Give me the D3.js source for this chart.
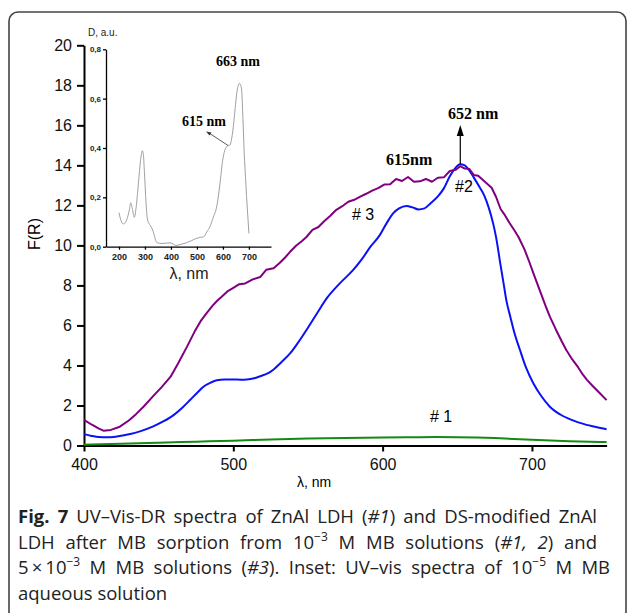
<!DOCTYPE html>
<html>
<head>
<meta charset="utf-8">
<script src="https://cdn.jsdelivr.net/npm/d3@7"></script>
<style>
  body { margin: 0; background: #fff; }
  svg { display: block; }
</style>
</head>
<body>
<div class="chart"></div>
<script>
// main chart: UV-Vis-DR spectra, wavelength (nm) vs F(R)
const wl3 = [400,405,410,413,418,424,430,435,440,446,452,458,463,469,474,478,482,486,489,492,496,500,504,508,513,518,522,527,531,535,538,542,546,549,553,557,561,565,569,573,577,581,585,589,593,597,601,605,609,613,617,621,625,629,633,637,641,645,649,652,655,658,661,664,667,670,673,676,679,682,685,688,691,695,698,701,705,709,712,716,720,723,727,731,734,737,741,745,750];
const fr3 = [1.28,1.05,0.84,0.74,0.78,0.94,1.25,1.58,1.95,2.44,2.92,3.44,4.1,4.94,5.68,6.2,6.6,6.98,7.22,7.42,7.7,7.88,8.06,8.1,8.3,8.42,8.78,8.86,9.12,9.42,9.68,9.98,10.22,10.42,10.78,10.92,11.22,11.48,11.78,11.96,12.18,12.28,12.44,12.58,12.74,12.86,13.04,13.06,13.32,13.22,13.42,13.18,13.2,13.32,13.18,13.38,13.4,13.72,13.78,13.96,13.84,13.82,13.52,13.48,13.28,13.08,12.88,12.42,11.82,11.5,11.12,10.78,10.42,9.8,9.22,8.6,7.8,7.0,6.44,5.8,5.2,4.77,4.3,3.9,3.55,3.27,2.95,2.65,2.27];

const wl2 = [400,405,410,415,420,426,431,438,446,453,460,466,471,476,480,485,489,494,500,505,509,514,518,523,527,532,538,543,549,556,563,571,580,586,592,598,603,607,611,616,620,624,628,632,637,641,645,648,652,655,658,661,665,668,671,674,676,679,681,683,685.5,688,692,696,701,706,712,719,727,735,743,750];
const fr2 = [0.57,0.48,0.42,0.41,0.43,0.5,0.57,0.72,0.94,1.2,1.52,1.9,2.27,2.65,2.94,3.15,3.26,3.3,3.3,3.29,3.3,3.36,3.46,3.6,3.8,4.15,4.6,5.1,5.77,6.6,7.4,8.08,8.75,9.3,9.95,10.5,11.15,11.6,11.85,11.97,11.9,11.8,11.85,12.1,12.45,12.85,13.45,13.8,14.05,14.0,13.75,13.4,12.9,12.5,11.9,11.1,10.4,9.0,8.1,7.2,6.44,5.7,4.77,3.9,3.1,2.5,1.94,1.55,1.27,1.07,0.92,0.81];

const wl1 = [400,425,450,475,500,525,550,575,600,625,650,675,700,725,750];
const fr1 = [0.04,0.09,0.14,0.19,0.24,0.3,0.35,0.38,0.4,0.42,0.42,0.38,0.28,0.21,0.17];

const xTicks = [400,500,600,700];
const xMinor = [450,550,650,750];
const yTicks = [0,2,4,6,8,10,12,14,16,18,20];
const yMinor = [1,3,5,7,9,11,13,15,17,19];

// inset: UV-vis absorption of MB solution
const wlInset = [200,208,217,230,240,245,252,259,266,275,283,290,294,298,304,310,318,327,335,343,355,365,380,396,410,419,440,460,480,499,515,526,538,550,563,576,588,599,607,614,620,627,634,640,647,653,658,663,668,672,677,682,687,691,696,700];
const dInset = [0.138,0.105,0.092,0.11,0.15,0.178,0.15,0.119,0.16,0.26,0.35,0.389,0.37,0.3,0.18,0.108,0.09,0.074,0.05,0.02,0.014,0.013,0.014,0.016,0.01,0.005,0.01,0.016,0.025,0.034,0.038,0.04,0.06,0.081,0.12,0.162,0.25,0.35,0.39,0.405,0.41,0.412,0.44,0.486,0.56,0.62,0.65,0.662,0.655,0.635,0.52,0.378,0.28,0.203,0.12,0.054];
const insetXTicks = [200,300,400,500,600,700];
const insetXMinor = [250,350,450,550,650,750];
const insetYTicks = [0,0.2,0.4,0.6,0.8];
const insetYMinor = [0.1,0.3,0.5,0.7];

const captionLines = [
  [["Fig. 7", "b"], [" UV–Vis-DR spectra of ZnAl LDH (", ""], ["#1", "i"], [") and DS-modified ZnAl", ""]],
  [["LDH after MB sorption from 10", ""], ["−3", "s"], [" M MB solutions (", ""], ["#1, 2", "i"], [") and", ""]],
  [["5\u2009×\u200910", ""], ["−3", "s"], [" M MB solutions (", ""], ["#3", "i"], ["). Inset: UV–vis spectra of 10", ""], ["−5", "s"], [" M MB", ""]],
  [["aqueous solution", ""]]
];

const W = 629, H = 613;
const svg = d3.select(".chart").append("svg")
  .attr("width", W).attr("height", H)
  .style("font-family", "Arial, 'Liberation Sans', sans-serif");

// frame
svg.append("rect")
  .attr("x", 9).attr("y", 12).attr("width", 617).attr("height", 640)
  .attr("rx", 9)
  .attr("fill", "none").attr("stroke", "#444").attr("stroke-width", 1.6);

let x = d3.scaleLinear().domain([400, 750]).range([84, 606.6]);
let y = d3.scaleLinear().domain([0, 20]).range([445.5, 45.3]);

// axes
let gx = svg.append("g").attr("transform", "translate(0," + y(0) + ")");
gx.call(d3.axisBottom(x).tickValues(xMinor).tickSize(4).tickSizeOuter(0).tickFormat(""));
gx.call(d3.axisBottom(x).tickValues(xTicks).tickSize(6).tickSizeOuter(0).tickPadding(7));
let gy = svg.append("g").attr("transform", "translate(" + x(400) + ",0)");
gy.call(d3.axisLeft(y).tickValues(yMinor).tickSize(4).tickSizeOuter(0).tickFormat(""));
gy.call(d3.axisLeft(y).tickValues(yTicks).tickSize(7).tickSizeOuter(0).tickPadding(5));
svg.selectAll(".domain, .tick line").attr("stroke", "#000").attr("stroke-width", 2);
svg.selectAll(".tick text").attr("font-size", 16).attr("font-family", "Arial, 'Liberation Sans', sans-serif").attr("fill", "#111");

svg.append("text").attr("transform", "translate(40,234)rotate(-90)")
  .attr("text-anchor", "middle").attr("font-size", 16).text("F(R)");
svg.append("text").attr("x", 314).attr("y", 487)
  .attr("text-anchor", "middle").attr("font-size", 14).text("λ, nm");

// curves
let line = d3.line().x(d => x(d[0])).y(d => y(d[1]));
const series = [
  { wl: wl1, v: fr1, color: "#138a13", curve: d3.curveBasis },
  { wl: wl2, v: fr2, color: "#0a12f5", curve: d3.curveMonotoneX },
  { wl: wl3, v: fr3, color: "#800080", curve: d3.curveLinear }
];
series.forEach(s => {
  svg.append("path")
    .datum(s.wl.map((w, i) => [w, s.v[i]]))
    .attr("fill", "none").attr("stroke", s.color).attr("stroke-width", 2)
    .attr("stroke-linejoin", "round")
    .attr("d", line.curve(s.curve));
});

// annotations
let serif = "'Liberation Serif', 'Times New Roman', serif";
svg.append("text").attr("x", 448).attr("y", 119).attr("font-family", serif)
  .attr("font-weight", "bold").attr("font-size", 16).text("652 nm");
svg.append("text").attr("x", 386).attr("y", 165).attr("font-family", serif)
  .attr("font-weight", "bold").attr("font-size", 16).text("615nm");
svg.append("line").attr("x1", x(652)).attr("x2", x(652)).attr("y1", y(14.05)).attr("y2", 132)
  .attr("stroke", "#000").attr("stroke-width", 1.2);
svg.append("path").attr("d", d3.line()([[x(652) - 3.5, 136], [x(652), 125], [x(652) + 3.5, 136]]) + "Z")
  .attr("fill", "#000");
svg.append("text").attr("x", 455).attr("y", 192).attr("font-size", 16).text("#2");
svg.append("text").attr("x", 352).attr("y", 220).attr("font-size", 16).text("# 3");
svg.append("text").attr("x", 430).attr("y", 422).attr("font-size", 16).text("# 1");

// inset
let ix = d3.scaleLinear().domain([150, 785]).range([106, 271]);
let iy = d3.scaleLinear().domain([0, 0.8]).range([246.7, 49.3]);
let inset = svg.append("g").attr("class", "inset");
let igx = inset.append("g").attr("transform", "translate(0," + iy(0) + ")");
igx.call(d3.axisBottom(ix).tickValues(insetXMinor).tickSize(2).tickSizeOuter(0).tickFormat(""));
igx.call(d3.axisBottom(ix).tickValues(insetXTicks).tickSize(3).tickSizeOuter(0).tickPadding(4));
let igy = inset.append("g").attr("transform", "translate(" + ix(150) + ",0)");
igy.call(d3.axisLeft(iy).tickValues(insetYMinor).tickSize(2).tickSizeOuter(0).tickFormat(""));
igy.call(d3.axisLeft(iy).tickValues(insetYTicks).tickSize(3).tickSizeOuter(0).tickPadding(2)
  .tickFormat(d => d3.format(".1f")(d).replace(".", ",")));
inset.selectAll(".domain, .tick line").attr("stroke", "#000").attr("stroke-width", 1.3);
igx.selectAll(".tick text").attr("font-size", 9).attr("font-weight", "bold").attr("fill", "#222");
igy.selectAll(".tick text").attr("font-size", 8).attr("font-weight", "bold").attr("fill", "#222");

inset.append("path")
  .datum(wlInset.map((w, i) => [w, dInset[i]]))
  .attr("fill", "none").attr("stroke", "#a0a0a0").attr("stroke-width", 1)
  .attr("d", d3.line().x(d => ix(d[0])).y(d => iy(d[1])).curve(d3.curveMonotoneX));

inset.append("text").attr("x", 88).attr("y", 36).attr("font-size", 10).attr("fill", "#222").text("D, a.u.");
inset.append("text").attr("x", 189).attr("y", 279).attr("text-anchor", "middle")
  .attr("font-size", 16).attr("fill", "#222").text("λ, nm");
inset.append("text").attr("x", 216).attr("y", 66).attr("font-family", serif)
  .attr("font-weight", "bold").attr("font-size", 14).text("663 nm");
inset.append("text").attr("x", 182).attr("y", 126).attr("font-family", serif)
  .attr("font-weight", "bold").attr("font-size", 14).text("615 nm");
inset.append("line").attr("x1", ix(620)).attr("y1", iy(0.41)).attr("x2", 209).attr("y2", 133)
  .attr("stroke", "#333").attr("stroke-width", 0.8);
inset.append("path").attr("d", "M206,131.5 L211.5,132.5 L209.5,135.5 Z").attr("fill", "#333");

// caption, justified with word spacing
let capFont = "'Open Sans', 'Noto Sans', sans-serif";
const capTargets = [579, 579, 592, null];
let capX = 18, sx = 1.0;
captionLines.forEach((parts, li) => {
  let g = svg.append("g").attr("transform", "translate(" + capX + "," + (523 + li * 25.7) + ")scale(" + sx + ",1)");
  let t = g.append("text").attr("x", 0).attr("y", 0)
    .attr("font-family", capFont).attr("font-size", 18.5).attr("fill", "#222");
  parts.forEach(p => {
    let ts = t.append("tspan").text(p[0]);
    if (p[1] === "b") ts.attr("font-weight", "bold");
    if (p[1] === "i") ts.attr("font-style", "italic");
    if (p[1] === "s") ts.attr("font-size", 12).attr("baseline-shift", "super");
  });
  if (capTargets[li]) {
    let natural = t.node().getComputedTextLength();
    let spaces = parts.map(p => p[0]).join("").split(" ").length - 1;
    let extra = (capTargets[li] / sx - natural) / spaces;
    t.attr("word-spacing", extra);
  }
});
</script>
</body>
</html>
